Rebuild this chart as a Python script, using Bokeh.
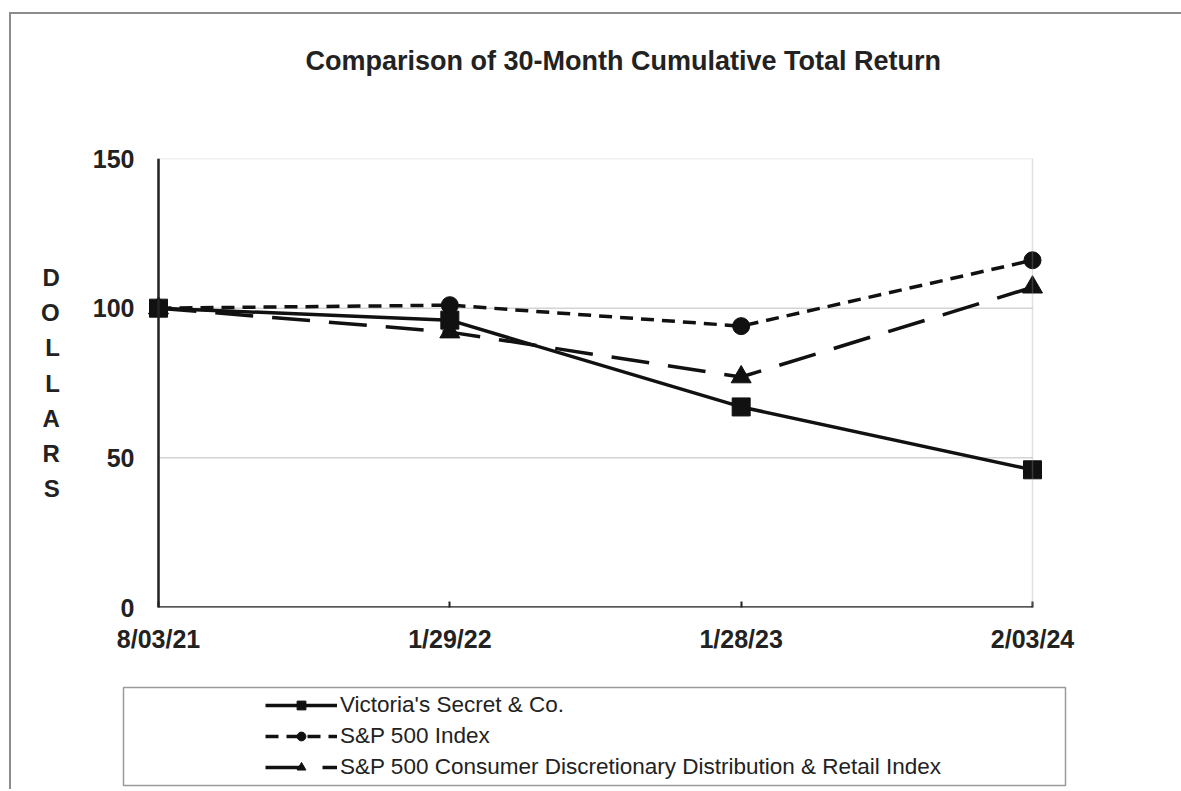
from bokeh.plotting import figure
from bokeh.layouts import column
from bokeh.models import (Range1d, FixedTicker, Legend, LegendItem, Arrow, BoxAnnotation,
                          LinearAxis)
from bokeh.embed import file_html
from bokeh.resources import INLINE

# ---------------- data ----------------
dates = ["8/03/21", "1/29/22", "1/28/23", "2/03/24"]
victorias_secret = [100, 96, 67, 46]
sp500 = [100, 101, 94, 116]
consumer_disc = [100, 92, 77, 107]
y_ticks = [0, 50, 100, 150]
grid_values = [50, 100]
series_names = ["Victoria's Secret & Co.", "S&P 500 Index",
                "S&P 500 Consumer Discretionary Distribution & Retail Index"]
title_text = "Comparison of 30-Month Cumulative Total Return"
y_title = "DOLLARS"

x_idx = list(range(len(dates)))

# ---------------- layout (page pixels) ----------------
OFF_X, OFF_Y = 11, 14          # where the framed content starts on the page
W = 1170
BOX_L, BOX_R, BOX_T, BOX_B = 158, 1032, 158, 607   # plot box on the page
LEG_L, LEG_R, LEG_T, LEG_B = 123, 1065, 687, 785  # legend box on the page
SPLIT = 686
TOP_H = SPLIT - OFF_Y
BOT_H = 789 - SPLIT
PX_PER_X = (BOX_R - BOX_L) / (len(dates) - 1)
TITLE_GAP = 78                 # empty space between title and plot box

FONT = "Liberation Sans"
INK = "#111111"
TXT = "#222222"

# both figures share the same horizontal frame (LEG_L..LEG_R); the plot box is drawn inside it
p = figure(width=W, height=TOP_H, output_backend="svg", toolbar_location=None,
           x_range=Range1d(-(BOX_L - LEG_L) / PX_PER_X,
                           (len(dates) - 1) + (LEG_R - BOX_R) / PX_PER_X),
           y_range=Range1d(y_ticks[0], y_ticks[-1]),
           min_border_left=LEG_L - OFF_X,
           min_border_right=W - (LEG_R - OFF_X),
           min_border_top=BOX_T - OFF_Y,
           min_border_bottom=TOP_H - (BOX_B - OFF_Y),
           title=title_text)
p.outline_line_color = None
p.background_fill_color = "white"
p.border_fill_color = "white"
p.xgrid.visible = False
p.ygrid.visible = False

# invisible spacer axis above the plot box (keeps the title up high)
spacer = LinearAxis(ticker=FixedTicker(ticks=[x_idx[0]]), axis_line_color=None,
                    major_tick_line_color=None, minor_tick_line_color=None,
                    major_tick_in=0, major_tick_out=TITLE_GAP, minor_tick_out=0,
                    major_label_standoff=0, major_label_text_font_size="1px",
                    major_label_text_color=None)
p.add_layout(spacer, "above")

# title
p.title.align = "left"
p.title.vertical_align = "bottom"
p.title.offset = 305 - LEG_L
p.title.standoff = 10
p.title.text_font = FONT
p.title.text_font_style = "bold"
p.title.text_font_size = "27px"
p.title.text_color = TXT

# axes
p.xaxis[0].ticker = FixedTicker(ticks=x_idx)
xa = p.below[0]
xa.ticker = FixedTicker(ticks=x_idx)
xa.major_label_overrides = {i: d for i, d in zip(x_idx, dates)}
xa.axis_line_color = None
xa.major_tick_in = 6
xa.major_tick_out = 0
xa.major_tick_line_color = TXT
xa.major_tick_line_width = 2
xa.minor_tick_line_color = None
xa.major_label_standoff = 17
xa.major_label_text_font = FONT
xa.major_label_text_font_style = "bold"
xa.major_label_text_font_size = "25px"
xa.major_label_text_color = TXT
spacer.ticker = FixedTicker(ticks=[x_idx[0]])

p.yaxis.ticker = FixedTicker(ticks=y_ticks)
p.yaxis.axis_line_color = None
p.yaxis.major_tick_line_color = None
p.yaxis.minor_tick_line_color = None
p.yaxis.major_tick_in = 0
p.yaxis.major_tick_out = 0
p.yaxis.major_label_standoff = LEG_L - 134
p.yaxis.major_label_text_font = FONT
p.yaxis.major_label_text_font_style = "bold"
p.yaxis.major_label_text_font_size = "25px"
p.yaxis.major_label_text_color = TXT
p.yaxis.axis_label = "\n".join(y_title)
p.yaxis.axis_label_orientation = "horizontal"
p.yaxis.axis_label_standoff = 30
p.yaxis.axis_label_text_font = FONT
p.yaxis.axis_label_text_font_style = "bold"
p.yaxis.axis_label_text_font_size = "24px"
p.yaxis.axis_label_text_line_height = 1.30
p.yaxis.axis_label_text_color = TXT

# grid lines (from tick values)
p.segment(x0=[x_idx[0]] * len(grid_values), x1=[x_idx[-1]] * len(grid_values),
          y0=grid_values, y1=grid_values, line_color="#d4d4d4", line_width=1.5,
          level="underlay")

# plot box: gray top/right, black left/bottom
p.add_layout(BoxAnnotation(left=x_idx[0], right=x_idx[-1], bottom=y_ticks[0], top=y_ticks[-1],
                           fill_alpha=0, line_color="#9a9a9a", line_width=1.5))
p.add_layout(Arrow(end=None, x_start=x_idx[0], y_start=y_ticks[0], x_end=x_idx[0], y_end=y_ticks[-1],
                   line_color=TXT, line_width=2.5))
p.add_layout(Arrow(end=None, x_start=x_idx[0], y_start=y_ticks[0], x_end=x_idx[-1], y_end=y_ticks[0],
                   line_color=TXT, line_width=2.5))

styles = [
    dict(values=victorias_secret, dash="solid", marker="square", size=18),
    dict(values=sp500, dash="13 8", marker="circle", size=17),
    dict(values=consumer_disc, dash="38 19", marker="triangle", size=20),
]


def draw_series(fig):
    out = []
    for s in styles:
        ln = fig.line(x_idx, s["values"], line_color=INK, line_width=3.5, line_dash=s["dash"])
        mk = fig.scatter(x_idx, s["values"], marker=s["marker"], size=s["size"], color=INK)
        out.append((ln, mk))
    return out


draw_series(p)

# ---------------- legend panel (its frame is the legend box) ----------------
lf = figure(width=W, height=BOT_H, output_backend="svg", toolbar_location=None,
            x_axis_type=None, y_axis_type=None,
            x_range=Range1d(10, 11), y_range=Range1d(1000, 1001),
            min_border_left=LEG_L - OFF_X, min_border_right=W - (LEG_R - OFF_X),
            min_border_top=LEG_T - SPLIT, min_border_bottom=BOT_H - (LEG_B - SPLIT))
lf.outline_line_color = "#9a9a9a"
lf.outline_line_width = 1.5
lf.xgrid.visible = False
lf.ygrid.visible = False
lf.background_fill_color = "white"
lf.border_fill_color = "white"

legend_renderers = draw_series(lf)
legend = Legend(items=[LegendItem(label=name, renderers=list(rs))
                       for name, rs in zip(series_names, legend_renderers)],
                location=(265 - LEG_L, 5),
                orientation="vertical", margin=0, padding=0,
                border_line_color=None, background_fill_alpha=0,
                glyph_width=72, glyph_height=22, label_height=22,
                label_standoff=3, spacing=5,
                label_text_font=FONT, label_text_font_size="22.5px",
                label_text_color=TXT)
lf.add_layout(legend)

layout = column(p, lf, spacing=0,
                styles={"margin-left": "9px", "margin-top": "12px",
                        "border-top": "2px solid #8c8c8c",
                        "border-left": "2px solid #8c8c8c",
                        "background-color": "white"})

open("out.html", "w").write(file_html(layout, INLINE))
